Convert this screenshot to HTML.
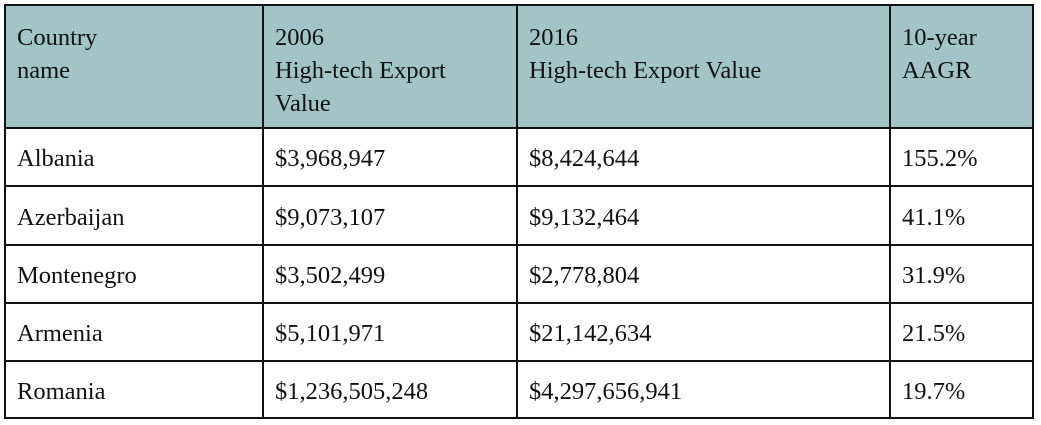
<!DOCTYPE html>
<html><head><meta charset="utf-8"><style>
body{margin:0;width:1041px;height:425px;background:#fff;overflow:hidden;font-family:"Liberation Serif","Times New Roman",Times,serif;color:#111}
.l{position:absolute;background:#111}
.t{position:absolute;font-family:"Liberation Serif","Times New Roman",Times,serif;font-size:24.5px;line-height:33px;white-space:nowrap}
</style></head><body>
<div>
<div style="position:absolute;left:4px;top:4px;width:1030px;height:124px;background:#a2c4c9"></div>
<script>
const vx=[4,262,516,889,1032];
const hy=[4,127,185,244,302,360,417];
const rows=[["Albania","$3,968,947","$8,424,644","155.2%"],["Azerbaijan","$9,073,107","$9,132,464","41.1%"],["Montenegro","$3,502,499","$2,778,804","31.9%"],["Armenia","$5,101,971","$21,142,634","21.5%"],["Romania","$1,236,505,248","$4,297,656,941","19.7%"]];
const hdr=["Country<br>name","2006<br>High-tech Export<br>Value","2016<br>High-tech Export Value","10-year<br>AAGR"];
let h='';
hy.forEach(y=>{h+=`<div class="l" style="left:4px;top:${y}px;width:1030px;height:2px"></div>`});
vx.forEach(x=>{h+=`<div class="l" style="left:${x}px;top:4px;width:2px;height:415px"></div>`});
hdr.forEach((t,i)=>{h+=`<div class="t" style="left:${vx[i]+13}px;top:21px">${t}</div>`});
rows.forEach((r,j)=>r.forEach((t,i)=>{h+=`<div class="t" style="left:${vx[i]+13}px;top:${(hy[j+1]+hy[j+2])/2-14}px">${t}</div>`}));
document.currentScript.parentNode.insertAdjacentHTML('beforeend',h);
</script>
</div>
</body></html>
